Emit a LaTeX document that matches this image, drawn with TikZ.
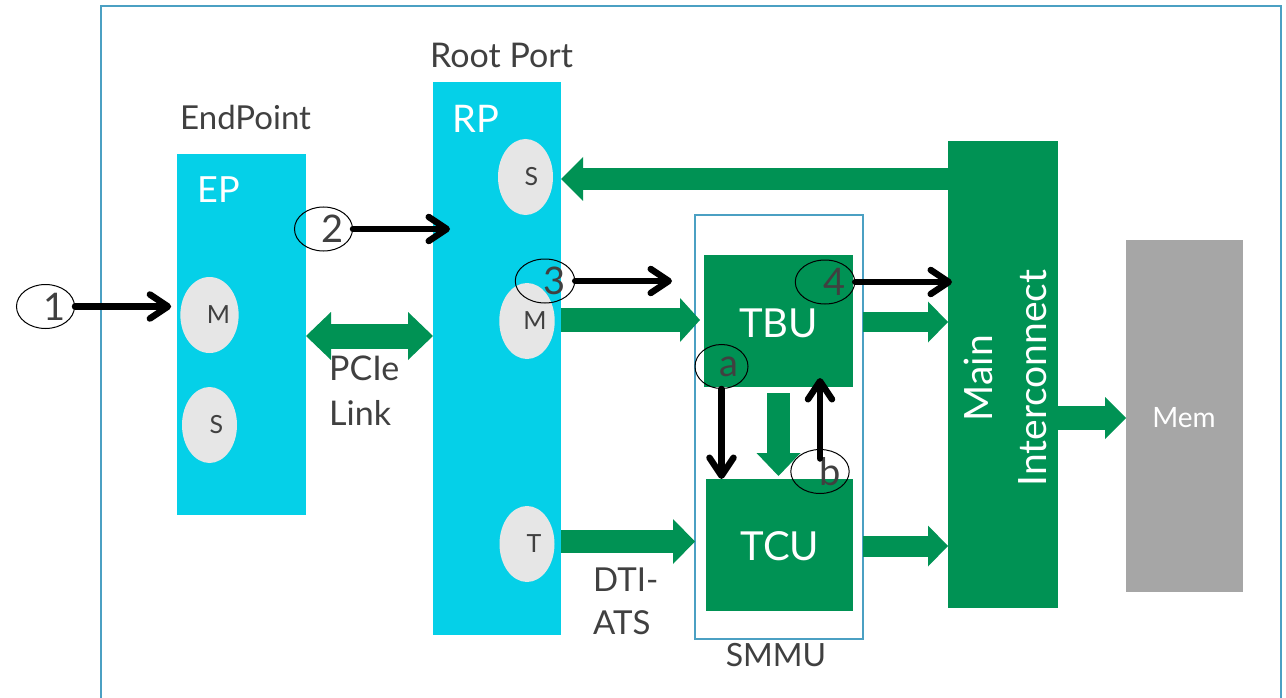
\documentclass[tikz,border=0pt]{standalone}
\usepackage{fontspec}
\setmainfont{Lato}
\usetikzlibrary{shapes.geometric,arrows.meta}
\definecolor{cy}{RGB}{5,208,232}
\definecolor{grn}{RGB}{0,146,84}
\definecolor{lgr}{RGB}{230,230,230}
\definecolor{memg}{RGB}{166,166,166}
\definecolor{frm}{RGB}{75,160,195}
\definecolor{dk}{RGB}{64,64,64}
\begin{document}
\begin{tikzpicture}[x=1pt,y=-1pt,
  box/.style={inner sep=0pt, anchor=north west, outer sep=0pt},
  wt/.style={text=white, inner sep=0pt, anchor=base west},
  dt/.style={text=dk, inner sep=0pt, anchor=base west},
  port/.style={ellipse, fill=lgr, minimum width=55pt, minimum height=76pt, inner sep=0pt, text=dk, font=\fontsize{25}{28}\selectfont},
  num/.style={ellipse, draw=black, line width=1pt, minimum width=53pt, minimum height=44pt, inner sep=0pt, text=dk, font=\fontsize{38}{40}\selectfont},
  fat/.style n args={3}{draw=grn, line width=#1, -{Triangle[width=#2, length=#3, line width=0pt]}},
  fatboth/.style n args={3}{draw=grn, line width=#1, {Triangle[width=#2, length=#3, line width=0pt]}-{Triangle[width=#2, length=#3, line width=0pt]}},
  blk/.style={draw=black, line width=6.5pt, line cap=round, -{Straight Barb[length=18pt, width=24pt, round]}}
]
\useasboundingbox (0,0) rectangle (1286,698);
\fill[white] (0,0) rectangle (1286,698);
\draw[frm, line width=1.2pt] (101,698) -- (101,6) -- (1281,6) -- (1281,698);

% blocks
\node[box, fill=cy, minimum width=129pt, minimum height=361pt] (ep) at (177,154) {};
\node[box, fill=cy, minimum width=128pt, minimum height=553pt] (rp) at (433,82) {};
\node[box, draw=frm, line width=1.2pt, minimum width=168pt, minimum height=424pt] (smmu) at (695,215) {};
\node[box, fill=grn, minimum width=149pt, minimum height=132pt] (tbu) at (704,255) {};
\node[box, fill=grn, minimum width=147pt, minimum height=132pt] (tcu) at (706,479) {};
\node[box, fill=grn, minimum width=110pt, minimum height=467pt] (mi) at (948,141) {};
\node[box, fill=memg, minimum width=117pt, minimum height=352pt] (mem) at (1126,240) {};

% labels
\node[dt, font=\fontsize{33}{36}\selectfont] (eplab) at (180,130) {EndPoint};
\node[dt, font=\fontsize{34}{36}\selectfont] (rplab) at (430,68) {Root Port};
\node[wt, font=\fontsize{36}{40}\selectfont] (eptxt) at (197,203) {EP};
\node[wt, font=\fontsize{38}{40}\selectfont] (rptxt) at (452,133) {RP};
\node[wt, anchor=base, font=\fontsize{40}{40}\selectfont] (tbutxt) at (778.5,337) {TBU};
\node[wt, anchor=base, font=\fontsize{40}{40}\selectfont] (tcutxt) at (780,560) {TCU};
\node[wt, anchor=base, font=\fontsize{28}{32}\selectfont] (memtxt) at (1184,427) {Mem};
\node[text=white, rotate=90, align=center, inner sep=0pt, font=\fontsize{39}{54}\selectfont] (mitxt) at (1005,378) {Main\\Interconnect};
\node[dt, font=\fontsize{34}{36}\selectfont] (pcie1) at (329,380) {PCIe};
\node[dt, font=\fontsize{34}{36}\selectfont] (pcie2) at (329,425) {Link};
\node[dt, font=\fontsize{33}{36}\selectfont] (dti1) at (593,591) {DTI-};
\node[dt, font=\fontsize{33}{36}\selectfont] (dti2) at (593,634) {ATS};
\node[dt, anchor=base, font=\fontsize{32}{36}\selectfont] (smmulab) at (776,666) {SMMU};

% ports
\node[port] (epM) at (209.5,315) {\hspace*{18pt}M};
\node[port] (epS) at (209.5,425) {\hspace*{14pt}S};
\node[port] (rpS) at (525.5,177) {\hspace*{12pt}S};
\node[port] (rpM) at (527,321) {\hspace*{16pt}M};
\node[port] (rpT) at (527,544) {\hspace*{14pt}T};

% green fat arrows
\draw[fatboth={25pt}{48pt}{25pt}] (ep.east |- 0,336) -- (rp.west |- 0,336);
\draw[fat={22pt}{44pt}{22pt}] (mi.west |- 0,179) -- (rp.east |- 0,179);
\draw[fat={24pt}{44pt}{20pt}, shorten >=4pt] (rp.east |- 0,320) -- (tbu.west |- 0,320);
\draw[fat={23pt}{45pt}{22pt}] (rp.east |- 0,541.5) -- (smmu.west |- 0,541.5);
\draw[fat={20pt}{41pt}{20pt}] (smmu.east |- 0,322) -- (mi.west |- 0,322);
\draw[fat={21pt}{41pt}{20pt}] (smmu.east |- 0,546) -- (mi.west |- 0,546);
\draw[fat={23pt}{44pt}{23pt}, shorten <=6pt, shorten >=3pt] (tbu.south) -- (tbu.south |- tcu.north);
\draw[fat={24pt}{42pt}{21pt}] (mi.east |- 0,418) -- (mem.west |- 0,418);

% numbered markers
\node[num] (c1) at (45.5,306.5) {\hspace*{19pt}1};
\node[num] (c2) at (323.5,229) {\hspace*{19pt}2};
\node[num] (c3) at (545,281) {\hspace*{20pt}3};
\node[num] (c4) at (825,282) {\hspace*{20pt}4};
\node[num] (ca) at (721.5,366.5) {\hspace*{15pt}a};
\node[num] (cb) at (820,471.5) {\hspace*{20pt}b};

% black arrows
\draw[blk, shorten >=9pt] (c1.east) -- (epM.west |- c1.east);
\draw[blk, shorten >=-17pt] (c2.east) -- (rp.west |- c2.east);
\draw[blk, shorten >=32pt] (c3.east) -- (tbu.west |- c3.east);
\draw[blk, shorten >=-4pt] (c4.east) -- (mi.west |- c4.east);
\draw[blk] (ca.south) -- (ca.south |- tcu.north);
\draw[blk, shorten <=13pt, shorten >=-9pt] (cb.center) -- (cb.center |- tbu.south);
\end{tikzpicture}
\end{document}
